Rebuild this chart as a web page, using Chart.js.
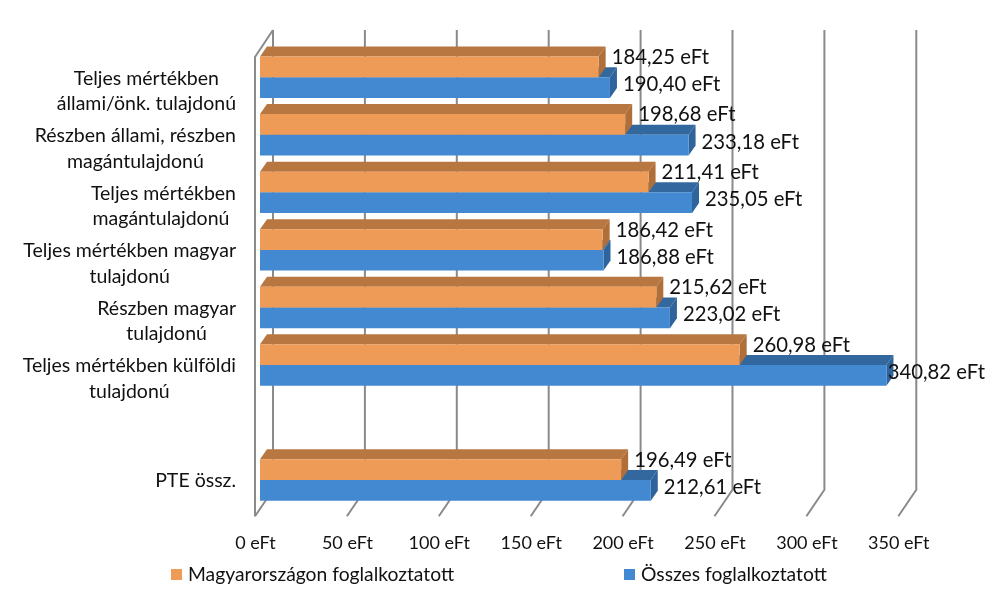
<!DOCTYPE html>
<html>
<head>
<meta charset="utf-8">
<title>Bérek</title>
<style>
    html, body { margin: 0; padding: 0; background: #fff; }
    canvas { display: block; }
</style>
<script src="https://cdn.jsdelivr.net/npm/chart.js@4/dist/chart.umd.min.js"></script>
</head>
<body>
<canvas id="chart" width="991" height="594"></canvas>
<script>
// the empty category is the gap above "PTE össz."
var categories = [
    ['Teljes mértékben', 'állami/önk. tulajdonú'],
    ['Részben állami, részben', 'magántulajdonú'],
    ['Teljes mértékben', 'magántulajdonú '],
    ['Teljes mértékben magyar', 'tulajdonú'],
    ['Részben magyar', 'tulajdonú'],
    ['Teljes mértékben külföldi', 'tulajdonú'],
    [''],
    ['PTE össz.']
];
var magyar = [184.25, 198.68, 211.41, 186.42, 215.62, 260.98, null, 196.49];
var osszes = [190.40, 233.18, 235.05, 186.88, 223.02, 340.82, null, 212.61];
var seriesNames = ['Magyarországon foglalkoztatott', 'Összes foglalkoztatott'];
var axisTicks = [0, 50, 100, 150, 200, 250, 300, 350];

var FONT = 'Lato, Carlito, sans-serif';
var TEXT = '#111';
var GRID = '#8a8a8a';
var DEPTH_X = 7, DEPTH_Y = 10;
var faces = [
    { front: '#ED9B57', top: '#B87741', side: '#B06F39' },
    { front: '#4389D1', top: '#33689F', side: '#2F639B' }
];

function eft(v) {
    return v.toFixed(2).replace('.', ',') + ' eFt';
}

function poly(ctx, pts, color) {
    ctx.fillStyle = color;
    ctx.beginPath();
    pts.forEach(function (p, i) {
        if (i == 0) ctx.moveTo(p[0], p[1]); else ctx.lineTo(p[0], p[1]);
    });
    ctx.closePath();
    ctx.fill();
}

// walls and floor of the fake 3D box
var wallPlugin = {
    id: 'walls',
    beforeDatasetsDraw: function (chart) {
        var ctx = chart.ctx, xs = chart.scales.x, ys = chart.scales.y;
        var backTop = ys.top - 18.5, backBottom = ys.bottom - 19, floor = ys.bottom + 7.5;
        ctx.save();
        ctx.strokeStyle = GRID;
        ctx.lineWidth = 2;
        axisTicks.forEach(function (v) {
            var px = xs.getPixelForValue(v);
            ctx.beginPath();
            ctx.moveTo(px + 13, backTop);
            ctx.lineTo(px + 13, backBottom);
            ctx.lineTo(px - 5, floor);
            ctx.stroke();
        });
        var x0 = xs.getPixelForValue(0);
        ctx.beginPath();
        ctx.moveTo(x0 + 13, backTop);
        ctx.lineTo(x0 - 5, ys.top + 8.5);
        ctx.lineTo(x0 - 5, floor);
        ctx.stroke();
        ctx.restore();
    }
};

// top and side faces go in before each dataset's front face
var depthPlugin = {
    id: 'depth',
    beforeDatasetDraw: function (chart, args) {
        var ctx = chart.ctx, c = faces[args.index];
        args.meta.data.forEach(function (bar, i) {
            if (chart.data.datasets[args.index].data[i] == null) return;
            var p = bar.getProps(['x', 'y', 'base', 'height'], true);
            var top = p.y - p.height / 2, bottom = p.y + p.height / 2;
            poly(ctx, [[p.base, top], [p.base + DEPTH_X, top - DEPTH_Y], [p.x + DEPTH_X, top - DEPTH_Y], [p.x, top]], c.top);
            poly(ctx, [[p.x, top], [p.x + DEPTH_X, top - DEPTH_Y], [p.x + DEPTH_X, bottom - DEPTH_Y], [p.x, bottom]], c.side);
        });
    }
};

var textPlugin = {
    id: 'texts',
    afterDraw: function (chart) {
        var ctx = chart.ctx, ys = chart.scales.y;
        ctx.save();
        ctx.fillStyle = TEXT;
        ctx.textBaseline = 'middle';

        // category labels: centred lines inside a right aligned block
        ctx.font = '19.5px ' + FONT;
        categories.forEach(function (lines, i) {
            var w = 0;
            lines.forEach(function (l) { w = Math.max(w, ctx.measureText(l).width); });
            ctx.textAlign = 'center';
            lines.forEach(function (l, n) {
                ctx.fillText(l, 236 - w / 2, ys.getPixelForValue(i) + 1 + n * 25.5);
            });
        });

        // value labels
        ctx.font = '20.3px ' + FONT;
        ctx.textAlign = 'left';
        chart.data.datasets.forEach(function (ds, d) {
            chart.getDatasetMeta(d).data.forEach(function (bar, i) {
                if (ds.data[i] == null) return;
                var p = bar.getProps(['x', 'y'], true);
                var txt = eft(ds.data[i]);
                var lx = Math.min(p.x + DEPTH_X + 6, 985 - ctx.measureText(txt).width);
                ctx.fillText(txt, lx, p.y + (d == 0 ? -9.5 : -3));
            });
        });

        // legend, the items sit too far apart for the built in one
        ctx.font = '19.3px ' + FONT;
        var legendX = [171, 624];
        chart.data.datasets.forEach(function (ds, d) {
            ctx.fillStyle = faces[d].front;
            ctx.fillRect(legendX[d], 569, 11, 11);
            ctx.fillStyle = TEXT;
            ctx.fillText(ds.label, legendX[d] + 17, 575);
        });
        ctx.restore();
    }
};

new Chart(document.getElementById('chart'), {
    type: 'bar',
    data: {
        labels: categories,
        datasets: [
            { label: seriesNames[0], data: magyar, backgroundColor: faces[0].front },
            { label: seriesNames[1], data: osszes, backgroundColor: faces[1].front }
        ]
    },
    options: {
        indexAxis: 'y',
        responsive: false,
        animation: false,
        categoryPercentage: 0.72,
        barPercentage: 1,
        layout: { padding: { left: 260, right: 87.7, top: 48.5, bottom: 20 } },
        plugins: { legend: { display: false }, tooltip: { enabled: false } },
        scales: {
            x: {
                min: 0,
                max: 350,
                grid: { display: false },
                border: { display: false },
                afterFit: function (s) { s.height = 65.2; },
                ticks: {
                    stepSize: 50,
                    autoSkip: false,
                    maxRotation: 0,
                    labelOffset: -4.5,
                    padding: 16,
                    color: TEXT,
                    font: { family: FONT, size: 18 },
                    callback: function (v) { return v + ' eFt'; }
                }
            },
            y: {
                grid: { display: false },
                border: { display: false },
                ticks: { display: false },
                afterFit: function (s) { s.width = 0; }
            }
        }
    },
    plugins: [wallPlugin, depthPlugin, textPlugin]
});
</script>
</body>
</html>
